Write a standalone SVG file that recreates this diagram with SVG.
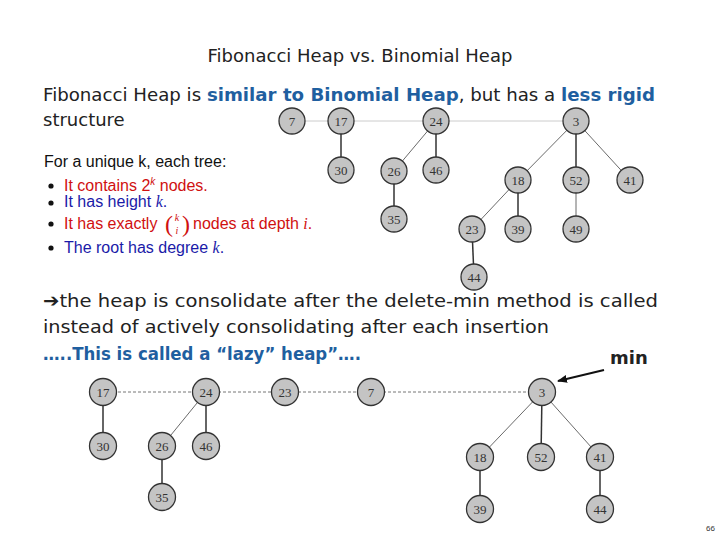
<svg xmlns="http://www.w3.org/2000/svg" width="720" height="540" viewBox="0 0 720 540">
<style>
.n circle{fill:#c4c4c4;stroke:#333;stroke-width:1.3}
.n text{font-family:"Liberation Serif",serif;font-size:13px;fill:#333;text-anchor:middle;dominant-baseline:central}
.e{stroke:#333;stroke-width:1.5}
.t{stroke:#444;stroke-width:0.8}
.r{stroke:#ccc;stroke-width:1}
.d{stroke:#777;stroke-width:1;stroke-dasharray:3 2}
.s{font-family:"DejaVu Sans",sans-serif;font-size:18px;fill:#222}
.b{font-family:"Liberation Sans",sans-serif;font-size:16px}
</style>
<defs><marker id="ah" markerWidth="10" markerHeight="8" refX="9" refY="4" orient="auto" markerUnits="userSpaceOnUse"><path d="M0,0L10,4L0,8z" fill="#111"/></marker></defs>
<rect width="720" height="540" fill="#fff"/>
<text x="360" y="62" class="s" text-anchor="middle" font-size="17">Fibonacci Heap vs. Binomial Heap</text>
<text x="43" y="101" class="s" textLength="612" lengthAdjust="spacingAndGlyphs">Fibonacci Heap is <tspan fill="#1f5fa0" font-weight="bold">similar to Binomial Heap</tspan>, but has a <tspan fill="#1f5fa0" font-weight="bold">less rigid</tspan></text>
<text x="43" y="126" class="s">structure</text>
<text x="44" y="167" class="b" fill="#111">For a unique k, each tree:</text>
<g class="b">
<circle cx="51" cy="186" r="2.6" fill="#111"/><text x="64" y="191" fill="#d01010">It contains 2<tspan font-size="10" dy="-6" font-style="italic">k</tspan><tspan dy="6"> nodes.</tspan></text>
<circle cx="51" cy="203" r="2.6" fill="#111"/><text x="64" y="207" fill="#1a1aa8">It has height <tspan font-style="italic" font-family="Liberation Serif">k</tspan>.</text>
<circle cx="51" cy="224" r="2.6" fill="#111"/><text x="64" y="229" fill="#d01010">It has exactly</text>
<text x="165" y="232" fill="#d01010" font-size="24" font-family="Liberation Serif">(</text>
<text x="182" y="232" fill="#d01010" font-size="24" font-family="Liberation Serif">)</text>
<text x="177" y="221" fill="#d01010" font-size="10" font-style="italic" font-family="Liberation Serif" text-anchor="middle">k</text>
<text x="177" y="234" fill="#d01010" font-size="10" font-style="italic" font-family="Liberation Serif" text-anchor="middle">i</text>
<text x="193" y="229" fill="#d01010">nodes at depth <tspan font-style="italic" font-family="Liberation Serif">i</tspan>.</text>
<circle cx="51" cy="248" r="2.6" fill="#111"/><text x="64" y="253" fill="#1a1aa8">The root has degree <tspan font-style="italic" font-family="Liberation Serif">k</tspan>.</text>
</g>
<text x="43" y="307" class="s" textLength="615" lengthAdjust="spacingAndGlyphs">➔the heap is consolidate after the delete-min method is called</text>
<text x="43" y="333" class="s" textLength="506" lengthAdjust="spacingAndGlyphs">instead of actively consolidating after each insertion</text>
<text x="43" y="360" class="s" style="fill:#1f5fa0" font-weight="bold" textLength="318" lengthAdjust="spacingAndGlyphs">…..This is called a “lazy” heap”….</text>
<text x="610" y="364" class="s" font-weight="bold" font-size="17">min</text>
<text x="706" y="531" font-family="Liberation Sans,sans-serif" font-size="8" fill="#333">66</text>
<g id="connectors">
<line class="r" x1="292" y1="121" x2="576" y2="121"/>
<line class="e" x1="341" y1="121" x2="341" y2="170"/>
<line class="t" x1="436" y1="121" x2="394" y2="171"/>
<line class="e" x1="436" y1="121" x2="436" y2="170"/>
<line class="e" x1="394" y1="171" x2="394" y2="219"/>
<line class="t" x1="576" y1="121" x2="518" y2="180"/>
<line class="e" x1="576" y1="121" x2="576" y2="180"/>
<line class="t" x1="576" y1="121" x2="630" y2="180"/>
<line class="t" x1="518" y1="180" x2="472" y2="229"/>
<line class="e" x1="518" y1="180" x2="518" y2="229"/>
<line class="t" x1="576" y1="180" x2="576" y2="229"/>
<line class="e" x1="472" y1="229" x2="474" y2="277"/>
<line class="d" x1="103" y1="392" x2="542" y2="392"/>
<line class="e" x1="103" y1="392" x2="103" y2="446"/>
<line class="t" x1="206" y1="392" x2="162" y2="446"/>
<line class="e" x1="206" y1="392" x2="206" y2="446"/>
<line class="e" x1="162" y1="446" x2="162" y2="497"/>
<line class="t" x1="542" y1="392" x2="480" y2="457"/>
<line class="e" x1="542" y1="392" x2="541" y2="457"/>
<line class="t" x1="542" y1="392" x2="600" y2="457"/>
<line class="e" x1="480" y1="457" x2="480" y2="509"/>
<line class="e" x1="600" y1="457" x2="600" y2="509"/>
<line x1="604" y1="370" x2="558" y2="381" stroke="#111" stroke-width="2" marker-end="url(#ah)"/>
</g>
<g class="n" id="t7"><circle cx="292" cy="121" r="13"/><text x="292" y="121">7</text></g>
<g class="n" id="t17"><circle cx="341" cy="121" r="13"/><text x="341" y="121">17</text></g>
<g class="n" id="t24"><circle cx="436" cy="121" r="13"/><text x="436" y="121">24</text></g>
<g class="n" id="t3"><circle cx="576" cy="121" r="13"/><text x="576" y="121">3</text></g>
<g class="n" id="t30"><circle cx="341" cy="170" r="13"/><text x="341" y="170">30</text></g>
<g class="n" id="t26"><circle cx="394" cy="171" r="13"/><text x="394" y="171">26</text></g>
<g class="n" id="t46"><circle cx="436" cy="170" r="13"/><text x="436" y="170">46</text></g>
<g class="n" id="t35"><circle cx="394" cy="219" r="13"/><text x="394" y="219">35</text></g>
<g class="n" id="t18"><circle cx="518" cy="180" r="13"/><text x="518" y="180">18</text></g>
<g class="n" id="t52"><circle cx="576" cy="180" r="13"/><text x="576" y="180">52</text></g>
<g class="n" id="t41"><circle cx="630" cy="180" r="13"/><text x="630" y="180">41</text></g>
<g class="n" id="t23"><circle cx="472" cy="229" r="13"/><text x="472" y="229">23</text></g>
<g class="n" id="t39"><circle cx="518" cy="229" r="13"/><text x="518" y="229">39</text></g>
<g class="n" id="t49"><circle cx="576" cy="229" r="13"/><text x="576" y="229">49</text></g>
<g class="n" id="t44"><circle cx="474" cy="277" r="13"/><text x="474" y="277">44</text></g>
<g class="n" id="b17"><circle cx="103" cy="392" r="13.5"/><text x="103" y="392">17</text></g>
<g class="n" id="b24"><circle cx="206" cy="392" r="13.5"/><text x="206" y="392">24</text></g>
<g class="n" id="b23"><circle cx="285" cy="392" r="13.5"/><text x="285" y="392">23</text></g>
<g class="n" id="b7"><circle cx="371" cy="392" r="13.5"/><text x="371" y="392">7</text></g>
<g class="n" id="b3"><circle cx="542" cy="392" r="13.5"/><text x="542" y="392">3</text></g>
<g class="n" id="b30"><circle cx="103" cy="446" r="13.5"/><text x="103" y="446">30</text></g>
<g class="n" id="b26"><circle cx="162" cy="446" r="13.5"/><text x="162" y="446">26</text></g>
<g class="n" id="b46"><circle cx="206" cy="446" r="13.5"/><text x="206" y="446">46</text></g>
<g class="n" id="b35"><circle cx="162" cy="497" r="13.5"/><text x="162" y="497">35</text></g>
<g class="n" id="b18"><circle cx="480" cy="457" r="13.5"/><text x="480" y="457">18</text></g>
<g class="n" id="b52"><circle cx="541" cy="457" r="13.5"/><text x="541" y="457">52</text></g>
<g class="n" id="b41"><circle cx="600" cy="457" r="13.5"/><text x="600" y="457">41</text></g>
<g class="n" id="b39"><circle cx="480" cy="509" r="13.5"/><text x="480" y="509">39</text></g>
<g class="n" id="b44"><circle cx="600" cy="509" r="13.5"/><text x="600" y="509">44</text></g>
</svg>
